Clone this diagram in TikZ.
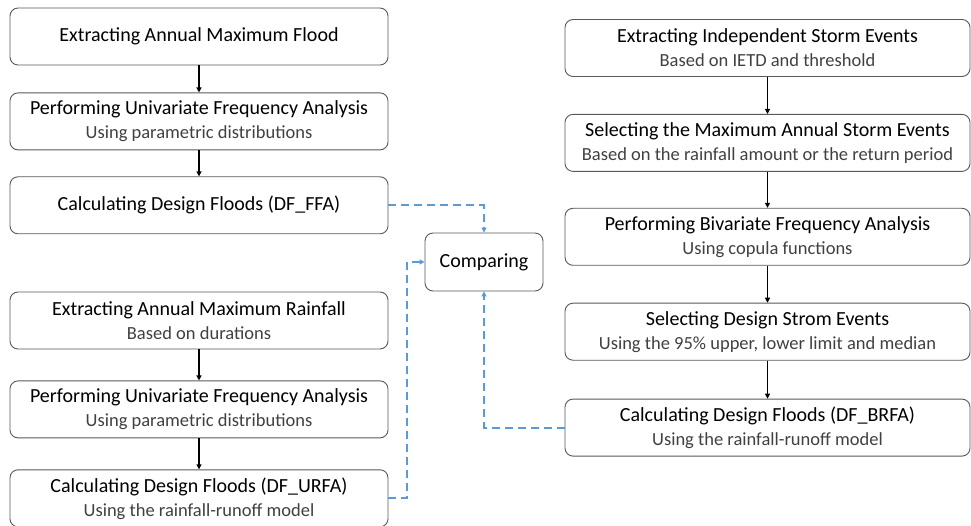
\documentclass[tikz,border=0pt]{standalone}
\usepackage{fontspec}
\setmainfont{Carlito}
\usepackage{tikz}
\usetikzlibrary{positioning,arrows.meta}
\definecolor{boxline}{HTML}{595959}
\definecolor{subtext}{HTML}{404040}
\definecolor{dashblue}{HTML}{5B9BD5}
\newcommand{\subline}[1]{{\color{subtext}\fontsize{18.5}{24}\selectfont #1}}

\begin{document}
\begin{tikzpicture}[
  x=1pt, y=1pt,
  block/.style={rectangle, draw=boxline, line width=0.9pt, rounded corners=8pt,
    minimum height=57pt, align=center, font=\fontsize{20}{24}\selectfont,
    inner sep=0pt},
  leftblock/.style={block, minimum width=378pt},
  rightblock/.style={block, minimum width=405pt},
  arrow/.style={-{Triangle[length=5pt,width=5pt]}, line width=1.4pt, black},
  dasharrow/.style={-{Triangle[length=5pt,width=5pt]}, line width=2pt,
    color=dashblue, dash pattern=on 8pt off 5pt},
]
\useasboundingbox (0,0) rectangle (971,525);
% left column, flood branch
\node[leftblock] (amf) at (199,488.5) {Extracting Annual Maximum Flood};
\node[leftblock,below=27pt of amf] (ufa1) {Performing Univariate Frequency Analysis\\\subline{Using parametric distributions}};
\node[leftblock,below=26pt of ufa1] (ffa) {Calculating Design Floods (DF\_FFA)};
% left column, rainfall branch
\node[leftblock] (amr) at (199,204.5) {Extracting Annual Maximum Rainfall\\\subline{Based on durations}};
\node[leftblock,below=31pt of amr] (ufa2) {Performing Univariate Frequency Analysis\\\subline{Using parametric distributions}};
\node[leftblock,below=31pt of ufa2] (urfa) {Calculating Design Floods (DF\_URFA)\\\subline{Using the rainfall-runoff model}};
% right column
\node[rightblock] (storm) at (767.5,477) {Extracting Independent Storm Events\\\subline{Based on IETD and threshold}};
\node[rightblock,below=37pt of storm] (maxstorm) {Selecting the Maximum Annual Storm Events\\\subline{Based on the rainfall amount or the return period}};
\node[rightblock,below=36pt of maxstorm] (bfa) {Performing Bivariate Frequency Analysis\\\subline{Using copula functions}};
\node[rightblock,below=37pt of bfa] (design) {Selecting Design Strom Events\\\subline{Using the 95\% upper, lower limit and median}};
\node[rightblock,below=38pt of design] (brfa) {Calculating Design Floods (DF\_BRFA)\\\subline{Using the rainfall-runoff model}};
% middle
\node[block, minimum width=118pt, minimum height=58pt] (cmp) at (484,263) {Comparing};

\draw[arrow] (amf) -- (ufa1);
\draw[arrow] (ufa1) -- (ffa);
\draw[arrow] (amr) -- (ufa2);
\draw[arrow] (ufa2) -- (urfa);
\draw[arrow] (storm) -- (maxstorm);
\draw[arrow] (maxstorm) -- (bfa);
\draw[arrow] (bfa) -- (design);
\draw[arrow] (design) -- (brfa);

\draw[dasharrow] (ffa.east) -| (cmp.north);
\draw[dasharrow] (urfa.east) -- ++(19,0) |- (cmp.west);
\draw[dasharrow] (brfa.west) -| (cmp.south);
\end{tikzpicture}
\end{document}
